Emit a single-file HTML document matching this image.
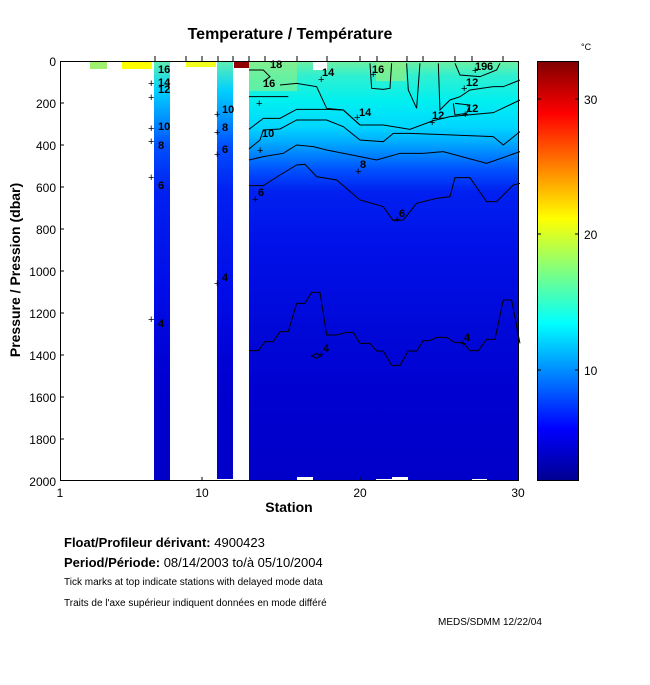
<!DOCTYPE html>
<html><head><meta charset="utf-8"><style>
body{margin:0;background:#fff;}
svg text{font-family:"Liberation Sans",sans-serif;}
</style></head><body>
<svg width="650" height="680" xmlns="http://www.w3.org/2000/svg">
<defs>
<linearGradient id="main" x1="0" y1="61" x2="0" y2="481" gradientUnits="userSpaceOnUse">
<stop offset="0" stop-color="#70f0a0"/>
<stop offset="0.035" stop-color="#30f0d0"/>
<stop offset="0.095" stop-color="#00f0f0"/>
<stop offset="0.155" stop-color="#00d8ff"/>
<stop offset="0.19" stop-color="#00b0ff"/>
<stop offset="0.225" stop-color="#0080ff"/>
<stop offset="0.26" stop-color="#0050ff"/>
<stop offset="0.31" stop-color="#0020f0"/>
<stop offset="0.45" stop-color="#0010e8"/>
<stop offset="0.64" stop-color="#0008d8"/>
<stop offset="0.8" stop-color="#0000d0"/>
<stop offset="1" stop-color="#0000c8"/>
</linearGradient>
<linearGradient id="col" x1="0" y1="61" x2="0" y2="481" gradientUnits="userSpaceOnUse">
<stop offset="0" stop-color="#60f0b0"/>
<stop offset="0.07" stop-color="#00d0ff"/>
<stop offset="0.14" stop-color="#0090ff"/>
<stop offset="0.2" stop-color="#0050ff"/>
<stop offset="0.31" stop-color="#0020f0"/>
<stop offset="0.55" stop-color="#000ce8"/>
<stop offset="0.75" stop-color="#0000d0"/>
<stop offset="1" stop-color="#0000c8"/>
</linearGradient>
<linearGradient id="jet" x1="0" y1="481" x2="0" y2="61" gradientUnits="userSpaceOnUse">
<stop offset="0" stop-color="#00008f"/>
<stop offset="0.125" stop-color="#0000ff"/>
<stop offset="0.375" stop-color="#00ffff"/>
<stop offset="0.625" stop-color="#ffff00"/>
<stop offset="0.875" stop-color="#ff0000"/>
<stop offset="1" stop-color="#800000"/>
</linearGradient>
</defs>

<text x="290" y="39" font-size="16" font-weight="bold" text-anchor="middle">Temperature / Température</text>

<rect x="249" y="61" width="270" height="420" fill="url(#main)"/>
<rect x="154" y="61" width="16" height="420" fill="url(#col)"/>
<rect x="217" y="61" width="16" height="418" fill="url(#col)"/>
<rect x="249" y="61" width="48" height="30" fill="#90f080" opacity="0.6"/>
<rect x="234" y="61" width="15" height="7" fill="#900000"/>
<rect x="90" y="61" width="17" height="8" fill="#a0f070"/>
<rect x="122" y="61" width="30" height="8" fill="#ffff00"/>
<rect x="186" y="61" width="30" height="6" fill="#f0ff20"/>
<rect x="313" y="61" width="14" height="9" fill="#ffffff"/>
<rect x="376" y="61" width="30" height="20" fill="#90f080" opacity="0.7"/>
<rect x="297" y="477" width="16" height="4" fill="#fff"/>
<rect x="376" y="479" width="16" height="2" fill="#fff"/>
<rect x="392" y="477" width="16" height="4" fill="#fff"/>
<rect x="472" y="479" width="15" height="2" fill="#fff"/>

<g transform="translate(50,50) scale(0.3333)" fill="none" stroke="#000" stroke-width="3">
<polyline points="597,297 630,270 640,240 690,237 740,210 830,210 880,230 930,270 1000,275 1030,250 1080,250 1160,253 1330,260 1360,285 1410,245"/>
<polyline points="597,330 640,320 700,310 740,285 790,290 830,300 930,320 980,330 1050,310 1120,310 1180,305 1310,340 1410,305"/>
<polyline points="597,407 640,407 690,375 740,345 765,343 800,380 860,390 930,450 1000,470 1030,512 1060,510 1100,460 1160,445 1200,440 1215,383 1260,383 1310,455 1340,455 1390,405 1410,400"/>
<polyline points="597,238 640,205 690,205 740,178 830,178 880,180 930,225 1000,225 1080,238 1150,212 1200,200 1330,188 1410,150"/>
<polyline points="690,105 740,100 800,110 830,175 880,180 930,225"/>
<polyline points="597,140 715,140"/>
<polyline points="960,40 965,115 1000,118 1020,115 1025,40"/>
<polyline points="1070,40 1075,120 1100,175 1110,40"/>
<polyline points="1165,40 1170,180 1200,150 1230,140 1260,120 1330,110 1360,110 1410,90"/>
<polyline points="1210,160 1215,195 1250,190 1260,165 1215,160"/>
<polyline points="1215,40 1230,75 1290,80 1340,60 1350,40"/>
<polyline points="597,60 640,60 660,80 640,95"/>
</g>
<g transform="translate(50,280) scale(0.3333)" fill="none" stroke="#000" stroke-width="3">
<polyline points="597,212 625,212 645,185 670,185 690,155 715,155 740,70 765,70 785,37 810,37 830,165 860,165 890,157 910,157 930,190 960,190 980,213 1000,213 1025,256 1050,256 1075,213 1100,213 1120,182 1140,182 1160,172 1190,172 1215,188 1240,188 1260,212 1285,212 1310,178 1335,178 1360,60 1385,60 1410,190"/>
<path d="M785,228 L800,220 L812,228 L800,235 Z"/>
</g>

<g font-size="11" font-weight="bold" fill="#000">
<text x="158" y="73">16</text><text x="158" y="86">14</text><text x="158" y="93">12</text>
<text x="158" y="130">10</text><text x="158" y="149">8</text><text x="158" y="189">6</text><text x="158" y="327">4</text>
<text x="222" y="113">10</text><text x="222" y="131">8</text><text x="222" y="153">6</text><text x="222" y="281">4</text>
<text x="263" y="87">16</text><text x="262" y="137">10</text><text x="258" y="196">6</text>
<text x="322" y="76">14</text><text x="372" y="73">16</text><text x="359" y="116">14</text>
<text x="360" y="168">8</text><text x="399" y="217">6</text><text x="432" y="119">12</text>
<text x="466" y="86">12</text><text x="466" y="112">12</text><text x="475" y="70">19</text><text x="487" y="70">6</text>
<text x="323" y="352">4</text><text x="464" y="341">4</text><text x="270" y="68">18</text>
</g>
<g font-size="11" fill="#000">
<text x="148" y="101">+</text><text x="148" y="87">+</text><text x="148" y="132">+</text><text x="148" y="145">+</text>
<text x="148" y="181">+</text><text x="148" y="323">+</text><text x="214" y="118">+</text><text x="214" y="136">+</text>
<text x="214" y="158">+</text><text x="214" y="287">+</text><text x="256" y="107">+</text><text x="257" y="154">+</text>
<text x="252" y="203">+</text><text x="318" y="83">+</text><text x="354" y="121">+</text><text x="355" y="175">+</text>
<text x="394" y="223">+</text><text x="429" y="126">+</text><text x="461" y="92">+</text><text x="462" y="118">+</text>
<text x="318" y="358">+</text><text x="460" y="347">+</text><text x="370" y="78">+</text><text x="472" y="74">+</text>
</g>

<g stroke="#000" stroke-width="1" fill="none">
<rect x="60.5" y="61.5" width="458" height="419"/>
<path d="M155,56V61M186,56V61M202,56V61M218,56V61M233,56V61M249,56V61M265,56V61M297,56V61M327,56V61M360,56V61M377,56V61M407,56V61M423,56V61M455,56V61M472,56V61M503,56V61"/>
<path d="M60,103h4M60,145h4M60,187h4M60,229h4M60,271h4M60,313h4M60,355h4M60,397h4M60,439h4"/>
<path d="M202,481v-4M360,481v-4"/>
</g>
<g font-size="12" text-anchor="end">
<text x="56" y="66">0</text><text x="56" y="108">200</text><text x="56" y="150">400</text>
<text x="56" y="192">600</text><text x="56" y="234">800</text><text x="56" y="276">1000</text>
<text x="56" y="318">1200</text><text x="56" y="360">1400</text><text x="56" y="402">1600</text>
<text x="56" y="444">1800</text><text x="56" y="486">2000</text>
</g>
<g font-size="12" text-anchor="middle">
<text x="60" y="497">1</text><text x="202" y="497">10</text><text x="360" y="497">20</text><text x="518" y="497">30</text>
</g>
<text x="289" y="512" font-size="14" font-weight="bold" text-anchor="middle">Station</text>
<text transform="translate(20,270) rotate(-90)" font-size="14" font-weight="bold" text-anchor="middle">Pressure / Pression (dbar)</text>

<rect x="537" y="61" width="42" height="420" fill="url(#jet)"/>
<rect x="537.5" y="61.5" width="41" height="419" fill="none" stroke="#000"/>
<path d="M579,370h-4M579,234h-4M579,99h-4M537,370h4M537,234h4M537,99h4" stroke="#000"/>
<text x="584" y="375" font-size="12">10</text>
<text x="584" y="239" font-size="12">20</text>
<text x="584" y="104" font-size="12">30</text>
<text x="581" y="50" font-size="9">°C</text>

<text x="64" y="547" font-size="13"><tspan font-weight="bold">Float/Profileur dérivant:</tspan> 4900423</text>
<text x="64" y="567" font-size="13"><tspan font-weight="bold">Period/Période:</tspan> 08/14/2003  to/à  05/10/2004</text>
<text x="64" y="585" font-size="10">Tick marks at top indicate stations with delayed mode data</text>
<text x="64" y="606" font-size="10">Traits de l'axe supérieur indiquent données en mode différé</text>
<text x="438" y="625" font-size="10">MEDS/SDMM  12/22/04</text>
</svg>
</body></html>
